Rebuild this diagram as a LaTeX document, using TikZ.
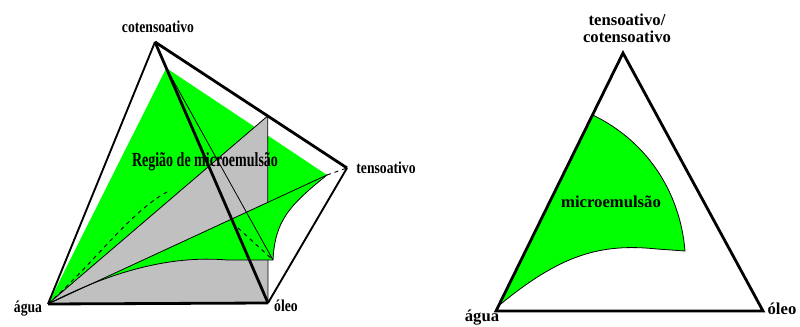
\documentclass[tikz,border=0pt]{standalone}
\usepackage{fontspec}
\setmainfont{Liberation Serif}
\newfontfamily\cfont[FakeStretch=0.82]{Liberation Serif}
\newfontfamily\tfont[FakeStretch=0.7]{Liberation Serif}
\usepackage{tikz}
\usetikzlibrary{calc}
\definecolor{micro}{HTML}{00FF00}
\definecolor{plano}{HTML}{C0C0C0}

\begin{document}
\begin{tikzpicture}[
  x=0.75pt, y=-0.75pt,
  edge/.style={line width=1.4pt},
  heavy/.style={line width=2.1pt},
  fine/.style={line width=0.6pt},
  hidden/.style={line width=0.7pt,dash pattern=on 3pt off 3pt},
  lbl/.style={font=\cfont\bfseries\fontsize{12.5}{14}\selectfont,inner sep=0pt},
  rlbl/.style={font=\bfseries\fontsize{12.5}{12.5}\selectfont,inner sep=0pt,align=center}
]
\useasboundingbox (0,0) rectangle (800,327);

% tetraedro
\coordinate (A) at (48,304);
\coordinate (O) at (268,303);
\coordinate (C) at (155,42);
\coordinate (T) at (347,168);
\coordinate (P) at ($(C)!0.1!(O)$);
\coordinate (G) at ($(C)!0.587!(T)$);
\coordinate (R) at (327,175);
\coordinate (B) at (273,260);
\coordinate (K) at (227,260);
\coordinate (D) at (167,192);
\coordinate (H) at (238,228);

\fill[micro] (A) -- (P) -- (R) -- cycle;
\fill[plano] (A) -- (G) -- (O) -- cycle;
\draw[fine] (A) -- (G);
\draw[fine] (G) -- (O);
\fill[micro] (A) -- (R) .. controls (290,205) and (275,220) .. (B) -- (K)
  .. controls (170,255) and (110,272) .. (A);
\draw[fine] (A) -- (R);
\draw[fine] (R) .. controls (290,205) and (275,220) .. (B) -- (K)
  .. controls (170,255) and (110,272) .. (A);
\draw[hidden] (A) .. controls (95,262) and (130,212) .. (D);
\draw[fine] (P) -- (B);
\draw[hidden] (H) -- (B);
\draw[hidden] (R) -- (T);

\draw[edge] (A) -- (C);
\draw[heavy] (C) -- (T);
\draw[edge] (T) -- (O);
\draw[heavy] (A) -- (O);
\draw[heavy] (C) -- (O);

\node[lbl] (cot) at (158,27) {cotensoativo};
\node[lbl] (ten) at (386,168) {tensoativo};
\node[lbl] (agua) at (28,309) {água};
\node[lbl] (oleo) at (286,306) {óleo};
\node[font=\tfont\bfseries\fontsize{15}{17}\selectfont,inner sep=0pt] (reg) at (205,162) {Região de microemulsão};

% diagrama pseudoternario
\coordinate (W) at (496,311);
\coordinate (Q) at (763,311);
\coordinate (S) at (623,53);
\coordinate (m0) at ($(W)!0.02!(S)$);
\coordinate (m1) at ($(W)!0.76!(S)$);
\coordinate (m2) at (685,251);
\coordinate (m3) at (657,249);

\filldraw[fill=micro,draw=black,fine] (m1) .. controls (645,140) and (680,190) .. (m2) -- (m3)
  .. controls (600,243) and (560,255) .. (m0) -- cycle;
\draw[heavy] (W) -- (Q) -- (S) -- cycle;

\node[rlbl] (tc) at (627,28) {tensoativo/\\cotensoativo};
\node[rlbl] (me) at (611,202) {microemulsão};
\node[rlbl] (agua2) at (482,318) {água};
\node[rlbl] (oleo2) at (782,309) {óleo};
\end{tikzpicture}
\end{document}
